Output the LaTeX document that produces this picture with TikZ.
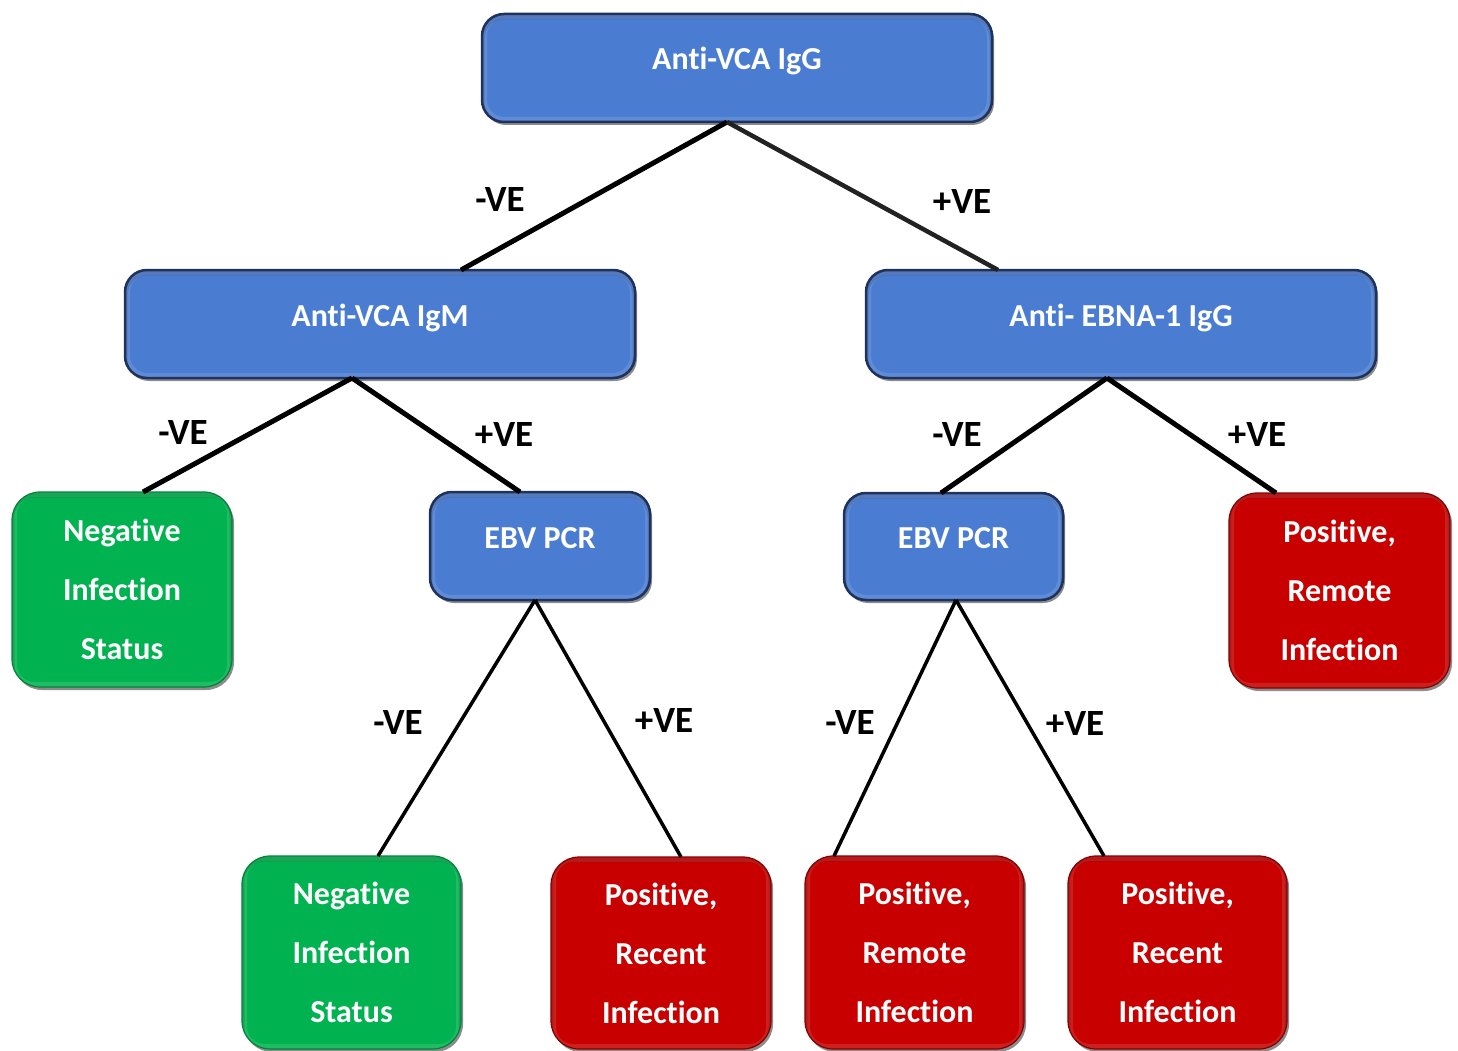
\documentclass[tikz,border=0pt]{standalone}
\usepackage{fontspec}
\setmainfont[Ligatures=CommonOff]{Carlito}
\usetikzlibrary{shadows}
\definecolor{boxblue}{RGB}{74,124,210}
\definecolor{boxnavy}{RGB}{30,50,92}
\definecolor{boxgreen}{RGB}{0,178,80}
\definecolor{greenedge}{RGB}{0,130,55}
\definecolor{boxred}{RGB}{200,0,0}
\definecolor{rededge}{RGB}{130,0,0}
\definecolor{lineg}{RGB}{34,34,34}
\tikzset{
  txt/.style={font=\fontsize{32}{59}\selectfont\bfseries},
  labtxt/.style={font=\fontsize{37}{44}\selectfont\bfseries},
  bevel/.style={path picture={
      \draw[line width=10pt, white, opacity=0.12, rounded corners=22pt]
        (path picture bounding box.south west) rectangle (path picture bounding box.north east);
      \draw[line width=5pt, black, opacity=0.12, rounded corners=22pt]
        ([yshift=-3pt]path picture bounding box.south west) rectangle ([yshift=-3pt]path picture bounding box.north east);}},
  basebox/.style={rounded corners=22pt, inner sep=0pt, outer sep=0pt, text=white, txt, bevel,
    drop shadow={shadow xshift=2pt, shadow yshift=-3pt, opacity=0.45, fill=black}},
  bluebox/.style={basebox, fill=boxblue, draw=boxnavy, line width=2.5pt,
    text height=20pt, text depth=16pt, align=center},
  greenbox/.style={basebox, fill=boxgreen, draw=greenedge, line width=1.2pt, align=center, rounded corners=28pt},
  redbox/.style={basebox, fill=boxred, draw=rededge, line width=1.2pt, align=center, rounded corners=28pt},
  conn/.style={draw=black, line width=5pt},
  conng/.style={draw=lineg, line width=4.5pt},
  connthin/.style={draw=black, line width=3.5pt},
  lab/.style={labtxt, text=black, inner sep=0pt}
}
\begin{document}
\begin{tikzpicture}[x=1pt,y=-1pt]
\useasboundingbox (0,0) rectangle (1458,1051);
% boxes
\node[bluebox, minimum width=510pt, minimum height=108pt] (top) at (737,68) {Anti-VCA IgG};
\node[bluebox, minimum width=510pt, minimum height=108pt] (igm) at (380,324) {Anti-VCA IgM};
\node[bluebox, minimum width=510pt, minimum height=108pt] (ebna) at (1121,324) {Anti- EBNA-1 IgG};
\node[greenbox, minimum width=220pt, minimum height=195pt] (neg1) at (122,589.5) {Negative\\Infection\\Status};
\node[bluebox, minimum width=220pt, minimum height=108pt] (ebv1) at (540,546) {EBV PCR};
\node[bluebox, minimum width=219pt, minimum height=107pt] (ebv2) at (953.5,546.5) {EBV PCR};
\node[redbox, minimum width=221pt, minimum height=195pt] (rem1) at (1339.5,590.5) {Positive,\\Remote\\Infection};
\node[greenbox, minimum width=219pt, minimum height=193pt] (neg2) at (351.5,952.5) {Negative\\Infection\\Status};
\node[redbox, minimum width=220pt, minimum height=192pt] (rec1) at (661,953) {Positive,\\Recent\\Infection};
\node[redbox, minimum width=219pt, minimum height=193pt] (rem2) at (914.5,952.5) {Positive,\\Remote\\Infection};
\node[redbox, minimum width=219pt, minimum height=193pt] (rec2) at (1177.5,952.5) {Positive,\\Recent\\Infection};
% connectors
\draw[conn] ([xshift=-10pt]top.south) -- ([xshift=81pt]igm.north);
\draw[conng] ([xshift=-10pt]top.south) -- ([xshift=-123pt]ebna.north);
\draw[conn] ([xshift=-28pt]igm.south) -- ([xshift=21pt]neg1.north);
\draw[conn] ([xshift=-28pt]igm.south) -- ([xshift=-20pt]ebv1.north);
\draw[conn] ([xshift=-14pt]ebna.south) -- ([xshift=-12.5pt]ebv2.north);
\draw[conn] ([xshift=-14pt]ebna.south) -- ([xshift=-63.5pt]rem1.north);
\draw[connthin] ([xshift=-5pt]ebv1.south) -- ([xshift=26.5pt]neg2.north);
\draw[connthin] ([xshift=-5pt]ebv1.south) -- ([xshift=20pt]rec1.north);
\draw[connthin] ([xshift=2.5pt]ebv2.south) -- ([xshift=-80.5pt]rem2.north);
\draw[connthin] ([xshift=2.5pt]ebv2.south) -- ([xshift=-73.5pt]rec2.north);
% labels
\node[lab] (l1) at (500,200) {-VE};
\node[lab] (l2) at (962,202) {+VE};
\node[lab] (l3) at (183,433) {-VE};
\node[lab] (l4) at (504,435) {+VE};
\node[lab] (l5) at (957,435) {-VE};
\node[lab] (l6) at (1257,435) {+VE};
\node[lab] (l7) at (398,722) {-VE};
\node[lab] (l8) at (664,720) {+VE};
\node[lab] (l9) at (850,722) {-VE};
\node[lab] (l10) at (1075,723) {+VE};
\end{tikzpicture}
\end{document}
